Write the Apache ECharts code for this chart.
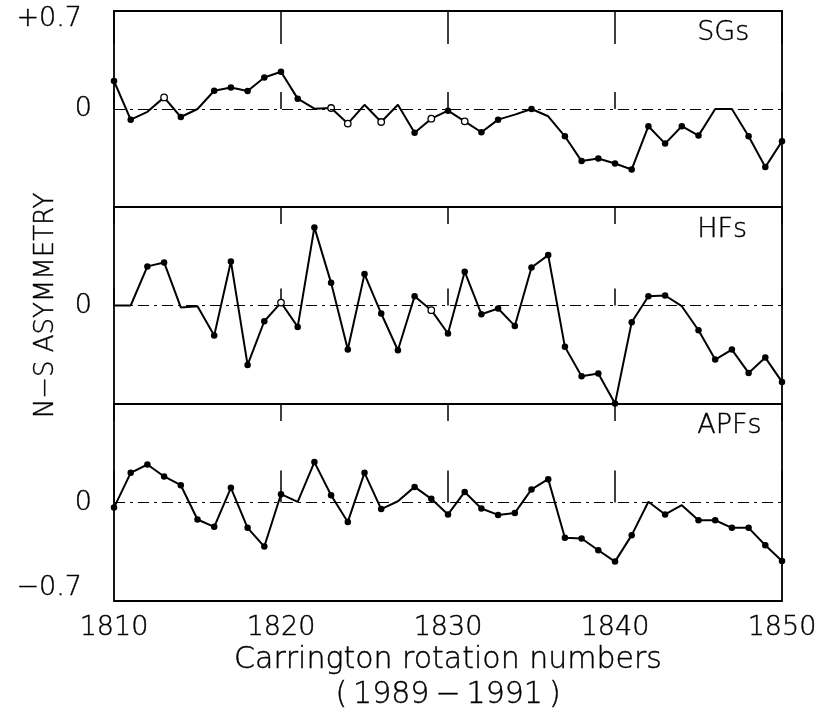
<!DOCTYPE html>
<html>
<head>
<meta charset="utf-8">
<script src="https://cdn.jsdelivr.net/npm/echarts@6/dist/echarts.min.js"></script>
<style>
  html, body { margin: 0; padding: 0; background: #fff; }
  #main { width: 822px; height: 715px; }
</style>
</head>
<body>
<div id="main"></div>
<script>
// Carrington rotation numbers (x)
var rotations = [1810, 1811, 1812, 1813, 1814, 1815, 1816, 1817, 1818, 1819,
  1820, 1821, 1822, 1823, 1824, 1825, 1826, 1827, 1828, 1829,
  1830, 1831, 1832, 1833, 1834, 1835, 1836, 1837, 1838, 1839,
  1840, 1841, 1842, 1843, 1844, 1845, 1846, 1847, 1848, 1849, 1850];

// N-S asymmetry
var sgValues = [0.20, -0.076, -0.02, 0.083, -0.057, 0.0, 0.13, 0.154, 0.128, 0.225,
  0.266, 0.074, 0.002, 0.007, -0.104, 0.03, -0.093, 0.03, -0.17, -0.069,
  -0.012, -0.088, -0.166, -0.076, -0.04, 0.0, -0.052, -0.195, -0.372, -0.353,
  -0.389, -0.432, -0.123, -0.247, -0.123, -0.19, 0.0, 0.0, -0.195, -0.415, -0.23];
var hfValues = [0, 0, 0.278, 0.306, -0.014, -0.005, -0.214, 0.313, -0.422, -0.112,
  0.021, -0.152, 0.555, 0.161, -0.313, 0.223, -0.057, -0.318, 0.066, -0.033,
  -0.199, 0.24, -0.062, -0.021, -0.145, 0.27, 0.358, -0.294, -0.503, -0.484,
  -0.697, -0.119, 0.066, 0.071, -0.005, -0.176, -0.384, -0.313, -0.479, -0.37, -0.543];
var apfValues = [-0.036, 0.211, 0.27, 0.185, 0.123, -0.121, -0.173, 0.104, -0.18, -0.313,
  0.059, 0.005, 0.287, 0.052, -0.138, 0.211, -0.047, 0.009, 0.111, 0.026,
  -0.085, 0.075, -0.043, -0.088, -0.074, 0.093, 0.166, -0.251, -0.256, -0.339,
  -0.42, -0.232, 0.005, -0.085, -0.019, -0.126, -0.126, -0.18, -0.18, -0.304, -0.415];

var panelNames = ['SGs', 'HFs', 'APFs'];
var xTicks = [1810, 1820, 1830, 1840, 1850];
var yTickLabels = ['\u22120.7', '0', '+0.7'];

// marker look per rotation: open circles / bare vertices
var openMarks = [[1813, 1823, 1824, 1826, 1829, 1831], [1820, 1829], []];
var bareMarks = [[1812, 1815, 1822, 1825, 1827, 1834, 1836, 1846, 1847],
  [1810, 1811, 1814, 1815, 1844], [1821, 1827, 1842, 1844]];

var FONT = 'DejaVu Sans';
var WEIGHT = 200;
var INK = { color: '#000', textBorderColor: '#000', textBorderWidth: 0.4 };
var chart = echarts.init(document.getElementById('main'));

var allValues = [sgValues, hfValues, apfValues];
var gridTops = [11, 207, 404];
var gridHeights = [196, 197, 197];
var grids = [], xAxes = [], yAxes = [], series = [], texts = [];

function txt(size, extra) {
  return Object.assign({ fontFamily: FONT, fontWeight: WEIGHT, fontSize: size }, INK, extra || {});
}

gridTops.forEach(function (top, i) {
  grids.push({
    left: 114, width: 668, top: top, height: gridHeights[i],
    show: true, borderColor: '#000', borderWidth: 1.8, backgroundColor: 'transparent'
  });
  var last = i === 2;
  // bottom axis
  xAxes.push({
    type: 'value', gridIndex: i, min: 1810, max: 1850, interval: 10, position: 'bottom',
    axisLine: { show: false },
    axisTick: { show: true, inside: true, length: last ? 32 : 17, lineStyle: { color: '#000', width: 1.5 } },
    splitLine: { show: false },
    axisLabel: txt(27, {
      show: last, margin: 13,
      formatter: function (v) { return xTicks.indexOf(v) >= 0 ? String(v) : ''; }
    }),
    name: last ? 'Carrington rotation numbers\n(\u20091989\u2009\u2212\u20091991\u2009)' : '',
    nameLocation: 'middle', nameGap: 42,
    nameTextStyle: txt(30, { lineHeight: 35 })
  });
  // top axis (ticks only)
  xAxes.push({
    type: 'value', gridIndex: i, min: 1810, max: 1850, interval: 10, position: 'top',
    axisLine: { show: false },
    axisTick: { show: true, inside: true, length: i === 0 ? 33 : 17, lineStyle: { color: '#000', width: 1.5 } },
    splitLine: { show: false },
    axisLabel: { show: false }
  });
  yAxes.push({
    type: 'value', gridIndex: i, min: -0.7, max: 0.7, interval: 0.7,
    axisLine: { show: false }, axisTick: { show: false }, splitLine: { show: false },
    axisLabel: txt(27, {
      margin: 22,
      formatter: function (v) {
        if (Math.abs(v) < 1e-9) return yTickLabels[1];
        if (v > 0 && i === 0) return '{hi|' + yTickLabels[2] + '}';
        if (v < 0 && i === 2) return '{lo|' + yTickLabels[0] + '}';
        return '';
      },
      rich: {
        hi: txt(27, { padding: [16, 10, 0, 0] }),
        lo: txt(27, { padding: [0, 10, 26, 0] })
      }
    }),
    name: i === 1 ? 'N\u2212S ASYMMETRY' : '',
    nameLocation: 'middle', nameGap: 55, nameRotate: 90,
    nameTextStyle: txt(26)
  });

  var data = rotations.map(function (r, k) {
    var item = { value: [r, allValues[i][k]] };
    if (openMarks[i].indexOf(r) >= 0) {
      item.itemStyle = { color: '#fff', borderColor: '#000', borderWidth: 1.3 };
    } else if (bareMarks[i].indexOf(r) >= 0) {
      item.symbol = 'none';
    }
    return item;
  });
  series.push({
    type: 'line', name: panelNames[i], xAxisIndex: 2 * i, yAxisIndex: i,
    data: data, symbol: 'circle', symbolSize: 6.5, showAllSymbol: true,
    itemStyle: { color: '#000' },
    lineStyle: { color: '#000', width: 2 },
    markLine: {
      silent: true, symbol: 'none', label: { show: false },
      lineStyle: { color: '#000', width: 1.2, type: [11, 5, 3, 5] },
      data: [{ yAxis: 0 }]
    },
    z: 3
  });
  texts.push({
    type: 'text', left: 697, top: [19, 216, 412][i],
    style: {
      text: panelNames[i], fill: '#000', stroke: '#000', lineWidth: 0.4,
      font: WEIGHT + ' 27px "' + FONT + '"'
    }
  });
});

chart.setOption({
  backgroundColor: '#fff',
  animation: false,
  grid: grids,
  xAxis: xAxes,
  yAxis: yAxes,
  series: series,
  graphic: texts
});
</script>
</body>
</html>
